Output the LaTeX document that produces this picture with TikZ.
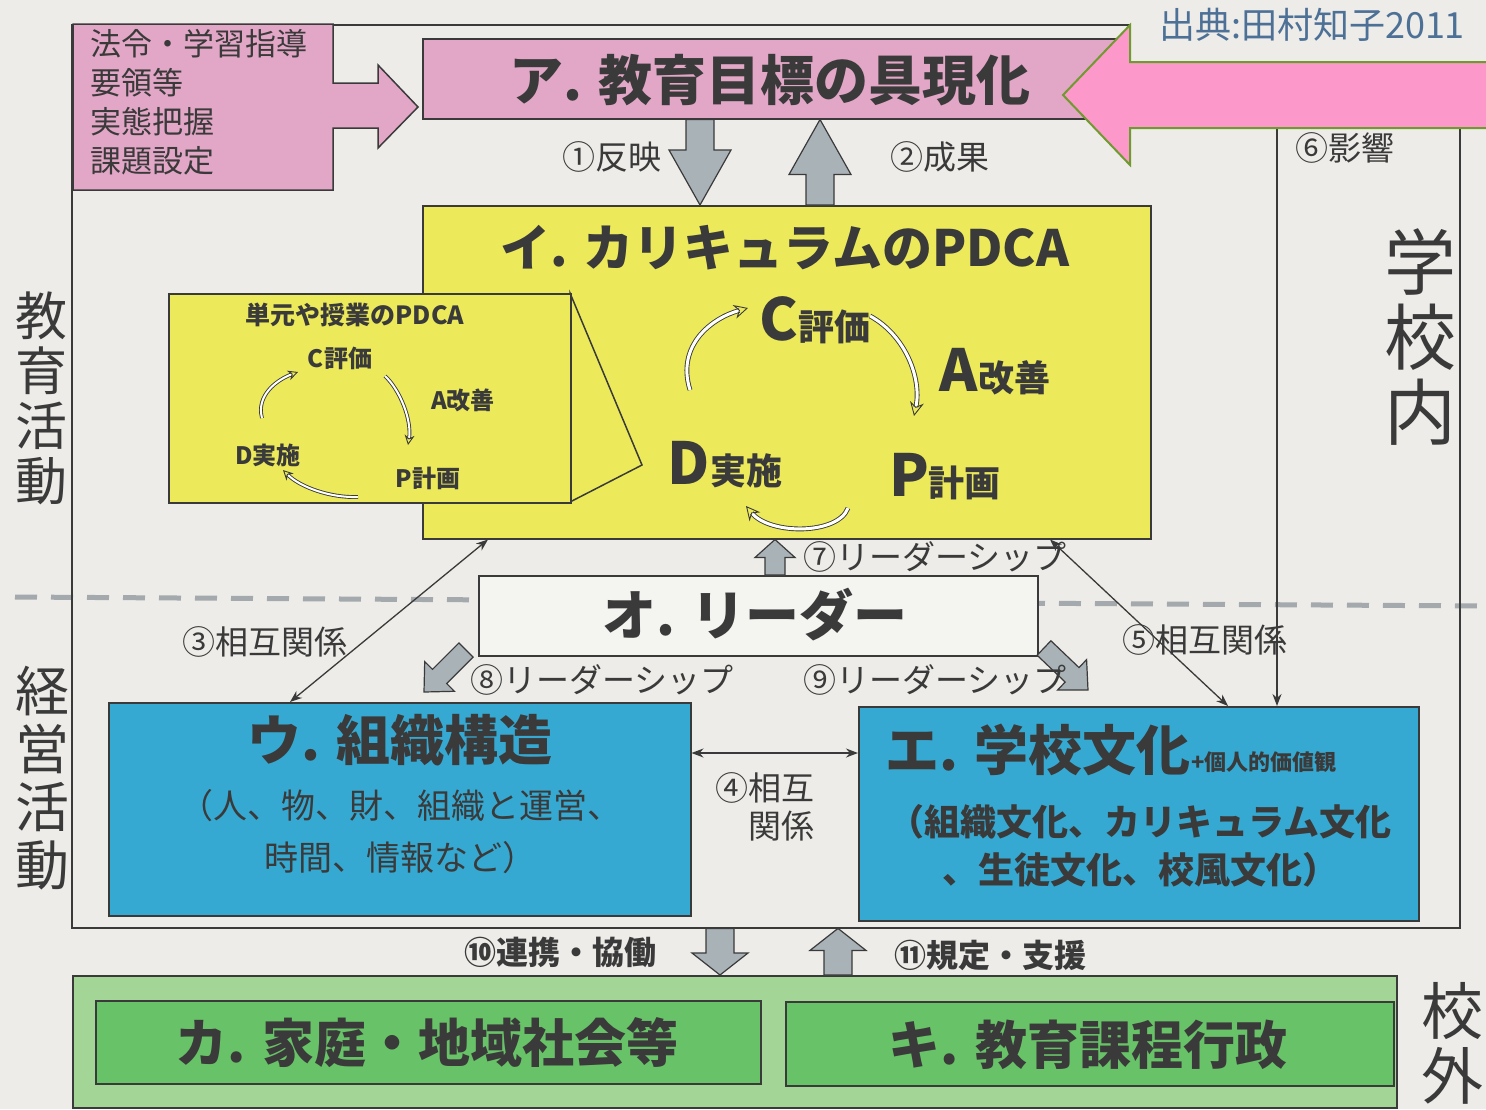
\documentclass[tikz,border=0pt]{standalone}
\usepackage{fontspec}
\setmainfont{Noto Sans CJK JP}
\usetikzlibrary{arrows.meta,calc}
\definecolor{paper}{HTML}{EDECE8}
\definecolor{ink}{HTML}{3A3A3A}
\definecolor{pinkbox}{HTML}{E2A7C6}
\definecolor{bigpink}{HTML}{FD98CA}
\definecolor{olive}{HTML}{6F9A2E}
\definecolor{ylw}{HTML}{ECEA5B}
\definecolor{blu}{HTML}{36A9D2}
\definecolor{lgreen}{HTML}{A3D596}
\definecolor{dgreen}{HTML}{68C268}
\definecolor{garrow}{HTML}{A9B2B7}
\definecolor{srcblue}{HTML}{4D7096}
\definecolor{leaderbg}{HTML}{F4F4F1}
\definecolor{dashgrey}{HTML}{A3A9AD}
\newcommand\fsz[2]{\fontsize{#1}{#2}\selectfont}
\newcommand\blockarr[6]{%
  \coordinate (ba-h) at ($(#3)!#6!(#2)$);
  \draw[#1] ($(#2)!#4!90:(#3)$) -- ($(ba-h)!#4!-90:(#2)$) -- ($(ba-h)!#5!-90:(#2)$) -- (#3)
    -- ($(ba-h)!#5!90:(#2)$) -- ($(ba-h)!#4!90:(#2)$) -- ($(#2)!#4!-90:(#3)$) -- cycle;
}
\tikzset{
  box/.style={draw=ink, line width=1.5pt, inner sep=0pt, anchor=north west},
  lbl/.style={font=\fsz{33}{38}, text=ink, inner sep=0pt},
  ttl/.style={font=\fsz{54}{60}\bfseries, text=ink, inner sep=0pt},
  conn/.style={draw=ink, line width=1.3pt, {Stealth[length=12pt,width=9pt]}-{Stealth[length=12pt,width=9pt]}},
  conn1/.style={draw=ink, line width=1.3pt, -{Stealth[length=12pt,width=9pt]}},
  garr/.style={draw=ink, fill=garrow, line width=1.2pt, line join=miter},
  cyc/.style={draw=ink, line width=0.9pt, double=white, double distance=3pt, -{Stealth[open,length=14pt,width=14pt]}},
  vtext/.style={align=center, text=ink, inner sep=0pt},
}
\begin{document}
\begin{tikzpicture}[x=1pt,y=-1pt]
\useasboundingbox (0,0) rectangle (1486,1109);
\fill[paper] (0,0) rectangle (1486,1109);

% divider
\draw[dashgrey, line width=5pt, dash pattern=on 22pt off 14pt] (15,597) -- (1486,606);

% frame (school inside)
\node[inner sep=0pt, anchor=north west, minimum width=1388pt, minimum height=903pt] (F) at (72,25) {};
\draw[ink, line width=1.3pt] (1130,25) -- (72,25) -- (72,928) -- (1460,928) -- (1460,125);

% helper coordinates
\coordinate (x700) at (700,0); \coordinate (x820) at (820,0); \coordinate (x775) at (775,0);
\coordinate (x720) at (720,0); \coordinate (x838) at (838,0); \coordinate (x488) at (488,0);
\coordinate (x290) at (290,0); \coordinate (x1050) at (1050,0); \coordinate (x1228) at (1228,0);
\coordinate (x1277) at (1277,0); \coordinate (y753) at (0,753);

% boxes
\node[box, fill=pinkbox, minimum width=703pt, minimum height=80pt] (A) at (422,38) {};
\node[box, fill=ylw, minimum width=728pt, minimum height=333pt] (I) at (422,205) {};
\node[box, fill=leaderbg, minimum width=559pt, minimum height=80pt] (O) at (478,575) {};
\node[box, fill=blu, minimum width=582pt, minimum height=213pt] (W) at (108,702) {};
\node[box, fill=blu, minimum width=560pt, minimum height=214pt] (E) at (858,706) {};
\node[box, fill=lgreen, minimum width=1324pt, minimum height=132pt] (G) at (72,975) {};
\node[box, fill=dgreen, minimum width=665pt, minimum height=83pt] (K) at (95,1000) {};
\node[box, fill=dgreen, minimum width=608pt, minimum height=84pt] (Q) at (785,1001) {};

% influence line 6
\coordinate (s6) at (1277,95);
\draw[conn1] (s6) -- (E.north -| x1277);

% source box with arrow
\draw[box, fill=pinkbox] (73,24) -- (333,24) -- (333,83) -- (378,83) -- (378,65) -- (418,107)
  -- (378,148) -- (378,128) -- (333,128) -- (333,190) -- (73,190) -- cycle;
\node[anchor=north west, align=left, font=\fsz{31}{39}, text=ink, inner sep=0pt] (src) at (90,29)
  {法令・学習指導\\要領等\\実態把握\\課題設定};

% big pink arrow
\coordinate (bpS) at (1490,95); \coordinate (bpE) at (1063,95);
\blockarr{draw=olive, fill=bigpink, line width=2pt, line join=miter}{bpS}{bpE}{33pt}{70pt}{67pt}

\node[text=srcblue, font=\fsz{36}{40}, inner sep=0pt] (cite) at (1312,25) {出典:田村知子2011};

% titles
\node[ttl] (At) at (770,80) {ア. 教育目標の具現化};
\node[ttl, font=\fsz{50}{56}\bfseries] (It) at (785,248) {イ. カリキュラムのPDCA};

% arrows 1 and 2
\coordinate (r1s) at (A.south -| x700); \coordinate (r1e) at (I.north -| x700);
\blockarr{garr}{r1s}{r1e}{14pt}{31pt}{55pt}
\coordinate (r2s) at (I.north -| x820); \coordinate (r2e) at (A.south -| x820);
\blockarr{garr}{r2s}{r2e}{14pt}{31pt}{55pt}
\node[lbl] (l1) at (612,157) {①反映};
\node[lbl] (l2) at (940,157) {②成果};
\node[lbl] (l6) at (1345,148) {⑥影響};

% inner unit PDCA box
\draw[box, fill=ylw] (570,293) -- (642,465) -- (570,502) -- cycle;
\node[box, fill=ylw, minimum width=402pt, minimum height=209pt] (U) at (168,293) {};
\node[font=\fsz{25}{28}\bfseries, text=ink, inner sep=0pt] (Ut) at (355,315) {単元や授業のPDCA};
\node[font=\fsz{24}{28}\bfseries, text=ink, inner sep=0pt] (uC) at (340,358) {C評価};
\node[font=\fsz{24}{28}\bfseries, text=ink, inner sep=0pt] (uA) at (463,400) {A改善};
\node[font=\fsz{24}{28}\bfseries, text=ink, inner sep=0pt] (uD) at (268,455) {D実施};
\node[font=\fsz{24}{28}\bfseries, text=ink, inner sep=0pt] (uP) at (428,478) {P計画};
\draw[cyc, double distance=2pt, -{Stealth[open,length=10pt,width=10pt]}] (262,418) .. controls (256,396) and (276,380) .. (298,372);
\draw[cyc, double distance=2pt, -{Stealth[open,length=10pt,width=10pt]}] (385,376) .. controls (400,390) and (412,420) .. (408,445);
\draw[cyc, double distance=2pt, -{Stealth[open,length=10pt,width=10pt]}] (358,497) .. controls (330,498) and (300,487) .. (283,470);

% main PDCA
\node[text=ink, inner sep=0pt] (mC) at (815,320) {\fsz{58}{60}\bfseries C\fsz{36}{40}評価};
\node[text=ink, inner sep=0pt] (mA) at (995,372) {\fsz{58}{60}\bfseries A\fsz{36}{40}改善};
\node[text=ink, inner sep=0pt] (mD) at (725,465) {\fsz{58}{60}\bfseries D\fsz{36}{40}実施};
\node[text=ink, inner sep=0pt] (mP) at (945,477) {\fsz{58}{60}\bfseries P\fsz{36}{40}計画};
\draw[cyc] (690,390) .. controls (676,345) and (712,318) .. (748,308);
\draw[cyc] (870,316) .. controls (905,335) and (922,378) .. (914,416);
\draw[cyc] (848,508) .. controls (838,535) and (770,535) .. (746,506);

% leader
\node[ttl] (Ot) at (755,615) {オ. リーダー};
\coordinate (r7s) at (O.north -| x775); \coordinate (r7e) at (I.south -| x775);
\blockarr{garr}{r7s}{r7e}{10pt}{20pt}{18pt}
\node[lbl] (l7) at (935,557) {⑦リーダーシップ};
\coordinate (r8s) at (466,650); \coordinate (r8e) at (424,692);
\blockarr{garr}{r8s}{r8e}{10pt}{21pt}{22pt}
\node[lbl] (l8) at (602,680) {⑧リーダーシップ};
\coordinate (r9s) at (1044,648); \coordinate (r9e) at (1088,690);
\blockarr{garr}{r9s}{r9e}{10pt}{21pt}{22pt}
\node[lbl] (l9) at (935,680) {⑨リーダーシップ};

% mutual relations
\draw[conn] (I.south -| x488) -- (W.north -| x290);
\draw[conn] (I.south -| x1050) -- (E.north -| x1228);
\draw[conn] (W.east |- y753) -- (E.west |- y753);
\node[lbl] (l3) at (265,642) {③相互関係};
\node[lbl] (l5) at (1205,640) {⑤相互関係};
\node[lbl, anchor=north east, align=right] (l4) at (815,772) {④相互\\関係};

% U and E texts
\node[ttl] (Wt) at (400,740) {ウ. 組織構造};
\node[font=\fsz{34}{52}, text=ink, inner sep=0pt, align=center] (Ws) at (400,832) {（人、物、財、組織と運営、\\時間、情報など）};
\node[ttl, anchor=base west] (Et) at (885,770) {エ. 学校文化};
\node[font=\fsz{22}{24}\bfseries, text=ink, inner sep=0pt, anchor=base west] (Ep) at (Et.base east) {+個人的価値観};
\node[font=\fsz{36}{48}\bfseries, text=ink, inner sep=0pt, align=center] (Es) at (1140,846) {（組織文化、カリキュラム文化\\、生徒文化、校風文化）};

% outside school
\coordinate (r10s) at (F.south -| x720); \coordinate (r10e) at (G.north -| x720);
\blockarr{garr}{r10s}{r10e}{14pt}{28pt}{22pt}
\coordinate (r11s) at (G.north -| x838); \coordinate (r11e) at (F.south -| x838);
\blockarr{garr}{r11s}{r11e}{14pt}{28pt}{22pt}
\node[lbl, font=\fsz{32}{36}\bfseries] (l10) at (560,952) {⑩連携・協働};
\node[lbl, font=\fsz{32}{36}\bfseries] (l11) at (990,955) {⑪規定・支援};
\node[ttl, font=\fsz{52}{56}\bfseries] (Kt) at (427,1043) {カ. 家庭・地域社会等};
\node[ttl, font=\fsz{52}{56}\bfseries] (Qt) at (1088,1045) {キ. 教育課程行政};

% side labels
\node[vtext, font=\fsz{52}{55}] (v1) at (42,398) {教\\育\\活\\動};
\node[vtext, font=\fsz{54}{58}] (v2) at (42,778) {経\\営\\活\\動};
\node[vtext, font=\fsz{72}{75}] (v3) at (1420,337) {学\\校\\内};
\node[vtext, font=\fsz{62}{65}] (v4) at (1452,1043) {校\\外};
\end{tikzpicture}
\end{document}
